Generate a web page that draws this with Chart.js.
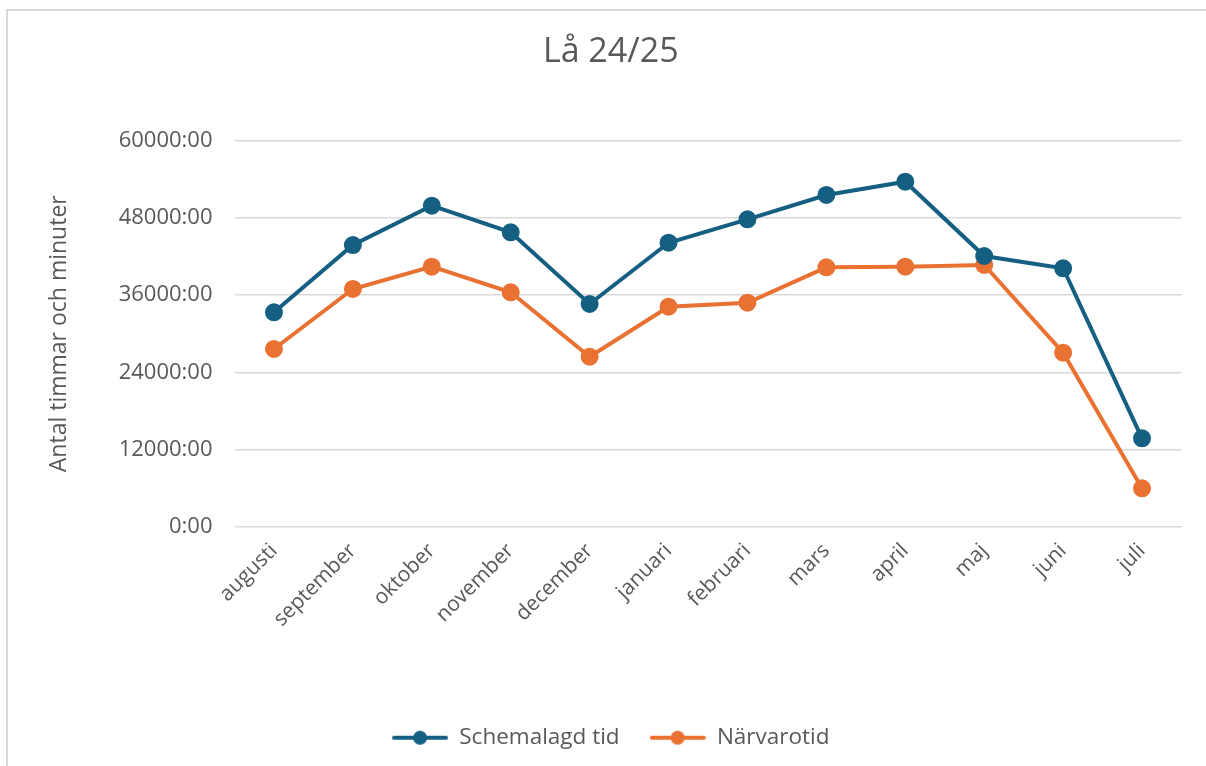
<!DOCTYPE html>
<html>

<head>
  <meta charset="utf-8">
  <title>Lå 24/25</title>
  <script src="https://cdn.jsdelivr.net/npm/chart.js@4.4.1/dist/chart.umd.min.js"></script>
  <style>
    html, body { margin: 0; padding: 0; background: #fff; }
    #wrap { position: relative; width: 1206px; height: 766px; }
    #frame {
      position: absolute; left: 6px; top: 9px; right: 0; bottom: 0;
      border-left: 2px solid #d9d9d9; border-top: 2px solid #d9d9d9;
      pointer-events: none;
    }
  </style>
</head>

<body>
  <div id="wrap">
    <canvas id="laChart" width="1206" height="766"></canvas>
    <div id="frame"></div>
  </div>

  <script>
    // months of the school year
    const months = ['augusti', 'september', 'oktober', 'november', 'december', 'januari',
      'februari', 'mars', 'april', 'maj', 'juni', 'juli'];

    // hours
    const schemalagd = [33340, 43810, 49930, 45790, 34630, 44170, 47810, 51600, 53670, 42100, 40190, 13730];
    const narvaro = [27630, 36970, 40440, 36450, 26430, 34210, 34830, 40340, 40440, 40700, 27050, 5950];

    const yTicks = [0, 12000, 24000, 36000, 48000, 60000];

    const BLUE = '#156082';
    const ORANGE = '#E97132';
    const GREY = '#595959';
    const FONT = "'Open Sans', sans-serif";

    // legend marker: short line with a dot
    function legendMarker(color) {
      const c = document.createElement('canvas');
      c.width = 56; c.height = 16;
      const g = c.getContext('2d');
      g.strokeStyle = color;
      g.lineWidth = 4;
      g.lineCap = 'round';
      g.beginPath(); g.moveTo(2, 8); g.lineTo(54, 8); g.stroke();
      g.fillStyle = color;
      g.beginPath(); g.arc(28, 8, 7, 0, Math.PI * 2); g.fill();
      return c;
    }

    const ctx = document.getElementById('laChart').getContext('2d');
    new Chart(ctx, {
      type: 'line',
      data: {
        labels: months,
        datasets: [{
          label: 'Schemalagd tid',
          data: schemalagd,
          borderColor: BLUE,
          backgroundColor: BLUE,
          borderWidth: 4,
          pointRadius: 7,
          pointHoverRadius: 7,
          pointStyle: 'circle',
          legendMarker: legendMarker(BLUE)
        }, {
          label: 'Närvarotid',
          data: narvaro,
          borderColor: ORANGE,
          backgroundColor: ORANGE,
          borderWidth: 4,
          pointRadius: 7,
          pointHoverRadius: 7,
          pointStyle: 'circle',
          legendMarker: legendMarker(ORANGE)
        }]
      },
      options: {
        responsive: false,
        animation: false,
        layout: { padding: { left: 40, right: 24.5, top: 0, bottom: 7 } },
        plugins: {
          title: {
            display: true,
            text: 'Lå 24/25',
            color: GREY,
            font: { family: FONT, size: 34, weight: 'normal' },
            padding: { top: 31.6, bottom: 68.6 }
          },
          legend: {
            position: 'bottom',
            labels: {
              color: GREY,
              font: { family: FONT, size: 22.5 },
              usePointStyle: true,
              pointStyleWidth: 56,
              boxHeight: 16,
              padding: 30,
              generateLabels(chart) {
                return chart.data.datasets.map((ds, i) => ({
                  text: ds.label,
                  fillStyle: ds.borderColor,
                  strokeStyle: ds.borderColor,
                  fontColor: GREY,
                  pointStyle: ds.legendMarker,
                  datasetIndex: i,
                  hidden: false
                }));
              }
            }
          },
          tooltip: { enabled: false }
        },
        scales: {
          x: {
            offset: true,
            grid: { display: false },
            border: { display: false },
            ticks: {
              color: GREY,
              font: { family: FONT, size: 21 },
              maxRotation: 45,
              minRotation: 45,
              padding: 4
            },
            afterFit(scale) { scale.height = 170; }
          },
          y: {
            min: 0,
            max: 60000,
            afterBuildTicks(scale) { scale.ticks = yTicks.map(v => ({ value: v })); },
            grid: { color: '#d9d9d9', lineWidth: 1.5, drawTicks: false },
            border: { display: false },
            ticks: {
              color: GREY,
              font: { family: FONT, size: 22 },
              padding: 22,
              callback: v => v + ':00'
            },
            title: {
              display: true,
              text: 'Antal timmar och minuter',
              color: GREY,
              font: { family: FONT, size: 23 },
              padding: { top: 6, bottom: 0 }
            },
            afterFit(scale) { scale.width = 194.5; }
          }
        }
      }
    });
  </script>
</body>

</html>
